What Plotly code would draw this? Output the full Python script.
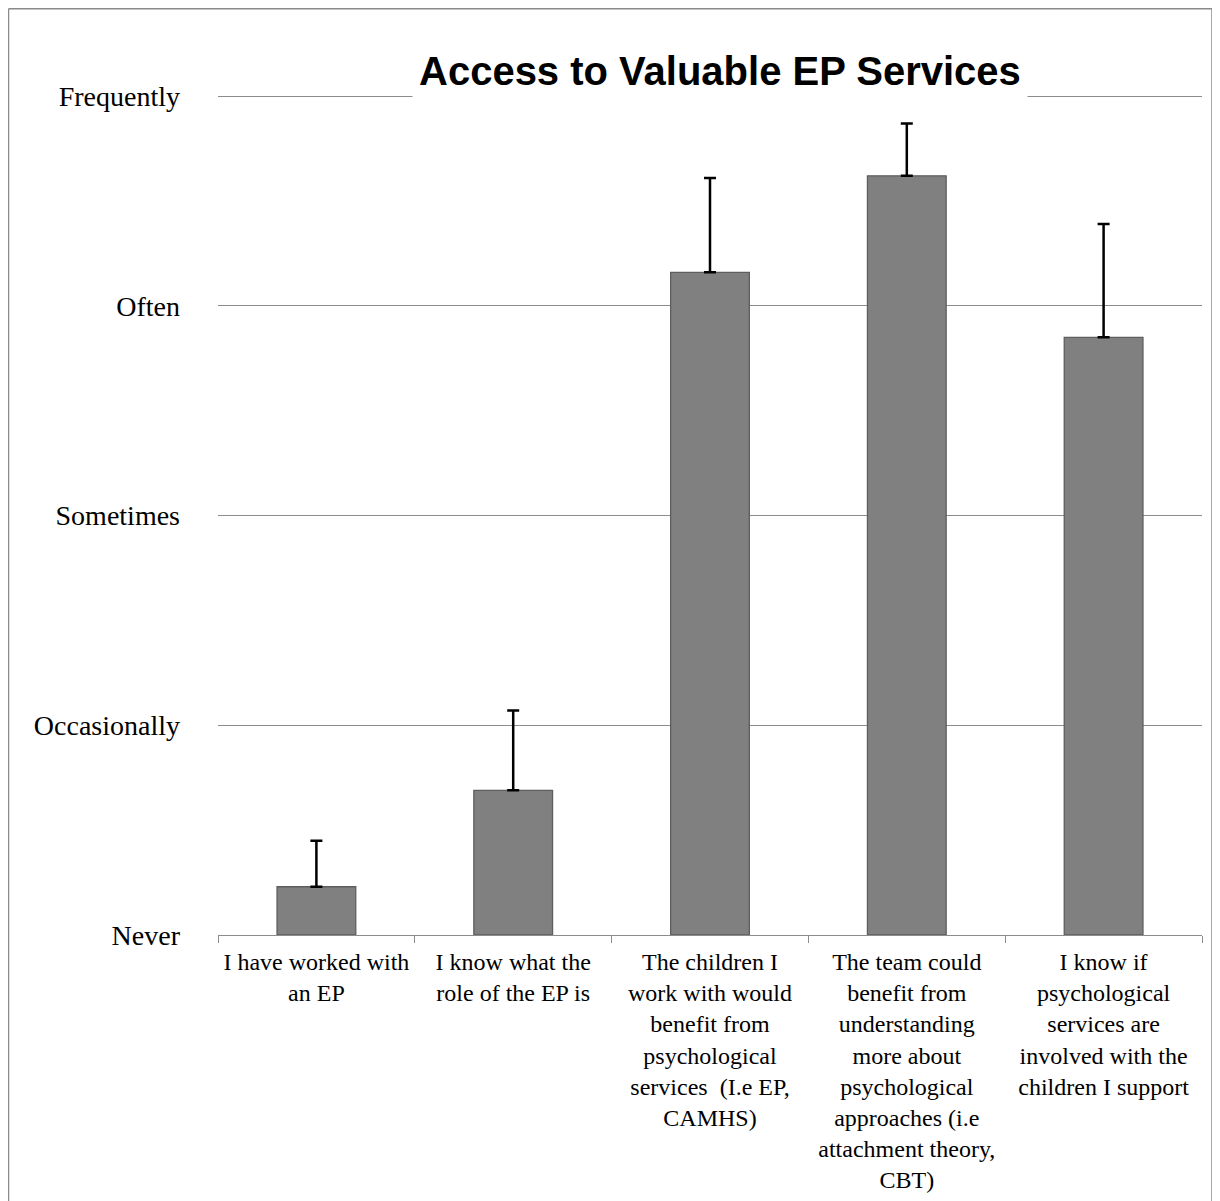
import plotly.graph_objects as go

categories = [
    "I have worked with<br>an EP",
    "I know what the<br>role of the EP is",
    "The children I<br>work with would<br>benefit from<br>psychological<br>services  (I.e EP,<br>CAMHS)",
    "The team could<br>benefit from<br>understanding<br>more about<br>psychological<br>approaches (i.e<br>attachment theory,<br>CBT)",
    "I know if<br>psychological<br>services are<br>involved with the<br>children I support",
]
means = [0.23, 0.69, 3.16, 3.62, 2.85]
errors = [0.22, 0.38, 0.45, 0.25, 0.54]
tick_vals = [0, 1, 2, 3, 4]
tick_text = ["Never", "Occasionally", "Sometimes", "Often", "Frequently"]
title = "Access to Valuable EP Services"

fig = go.Figure()
fig.add_trace(go.Bar(
    x=categories, y=means,
    marker=dict(color="#808080", line=dict(color="#5e5e5e", width=1.3)),
    error_y=dict(type="data", array=errors, arrayminus=[0] * len(errors),
                 symmetric=False, color="black", thickness=2.5, width=6),
    showlegend=False,
))

# page has an 8px body margin; work in screen pixels and offset
OFF = 8
W, H = 1220, 1201
Y_TOP = 4.015          # a little headroom so the top gridline is drawn
y_never, y_freq = 935, 96
ppu = (y_never - y_freq) / 4.0
top_px = y_never - Y_TOP * ppu
L, R = 218 - OFF, W - (1202 - OFF)
T, B = top_px - OFF, H - (y_never - OFF)
pw, ph = W - L - R, H - T - B

def px(x):
    return (x - OFF - L) / pw

def py(y):
    return (H - B - (y - OFF)) / ph

border = dict(type="line", xref="paper", yref="paper",
              line=dict(color="#8a8a8a", width=1.5))
shapes = [
    dict(border, x0=px(8.5), x1=px(8.5), y0=py(8.5), y1=py(1230)),
    dict(border, x0=px(1212), x1=px(1212), y0=py(8.5), y1=py(1230)),
    dict(border, x0=px(8.5), x1=px(1212), y0=py(8.5), y1=py(8.5)),
]

fig.update_layout(
    width=W, height=H,
    margin=dict(l=L, r=R, t=T, b=B, pad=0),
    paper_bgcolor="white", plot_bgcolor="white",
    bargap=0.6,
    shapes=shapes,
    annotations=[dict(
        text="<b>" + title + "</b>", xref="paper", yref="paper",
        x=px(720), y=py(71), xanchor="center", yanchor="middle",
        showarrow=False, bgcolor="white", borderpad=6,
        font=dict(family="Liberation Sans", size=40, color="black"),
    )],
    font=dict(family="Liberation Serif", color="black"),
)
fig.update_yaxes(
    range=[0, Y_TOP], tickvals=tick_vals, ticktext=tick_text,
    showgrid=True, gridcolor="#8c8c8c", gridwidth=1.3,
    zeroline=False, showline=False, ticks="",
    ticklabelstandoff=37,
    tickfont=dict(family="Liberation Serif", size=28, color="black"),
)
fig.update_xaxes(
    showline=True, linecolor="#8c8c8c", linewidth=1.3,
    ticks="outside", tickson="boundaries", ticklen=7, tickcolor="#8c8c8c",
    tickwidth=1.3, tickangle=0, ticklabelstandoff=5,
    tickfont=dict(family="Liberation Serif", size=24, color="black"),
)

fig.write_html("out.html")
